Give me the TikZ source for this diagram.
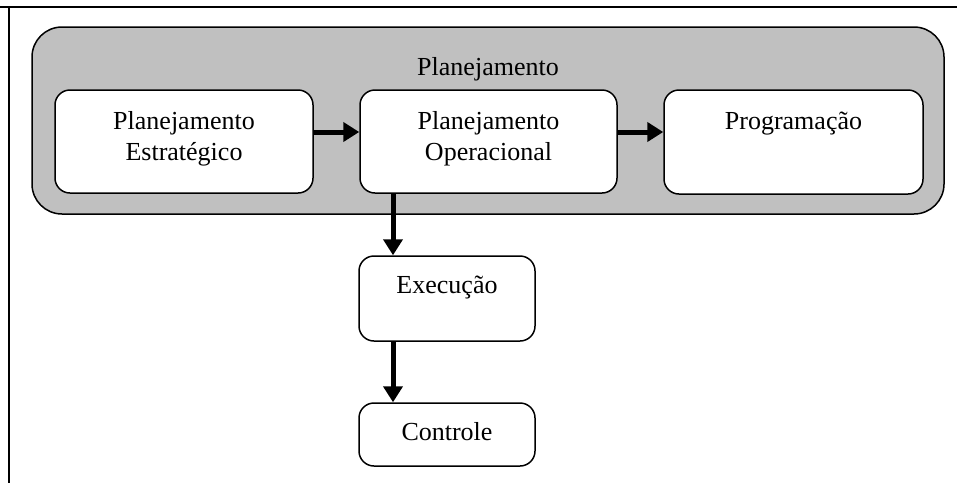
\documentclass[tikz,border=0pt]{standalone}
\usepackage{fontspec}
\setmainfont{Liberation Serif}
\usetikzlibrary{arrows.meta}
\definecolor{panelgray}{HTML}{C0C0C0}
\begin{document}
\begin{tikzpicture}[x=1pt,y=-1pt,
  boxstyle/.style={draw, line width=1.5pt, fill=white, rounded corners=15pt, inner sep=0pt},
  txt/.style={font=\fontsize{26}{31}\selectfont, inner sep=0pt, align=center},
  thickarrow/.style={line width=5pt, -{Triangle[length=16pt,width=19pt]}}]
\useasboundingbox (0,0) rectangle (957,483);
\draw[line width=1.2pt] (0,7) -- (957,7);
\draw[line width=2.4pt] (9,7) -- (9,483);
\node[draw, line width=1.5pt, fill=panelgray, rounded corners=30pt, minimum width=912pt, minimum height=187pt, inner sep=0pt] (plan) at (488,120.5) {};
\node[txt, anchor=base] (plantitle) at (488,75) {Planejamento};
\node[boxstyle, minimum width=258pt, minimum height=103pt] (b1) at (184,141.5) {};
\node[boxstyle, minimum width=257pt, minimum height=103pt] (b2) at (488.5,141.5) {};
\node[boxstyle, minimum width=259pt, minimum height=104pt] (b3) at (793.5,142) {};
\node[boxstyle, minimum width=176pt, minimum height=85pt] (ex) at (447,298.5) {};
\node[boxstyle, minimum width=176pt, minimum height=63pt] (ct) at (447,434.5) {};
\node[txt, anchor=north] (t1) at (184,111) {Planejamento\\Estratégico};
\node[txt, anchor=north] (t2) at (488.5,111) {Planejamento\\Operacional};
\node[txt, anchor=base] (t3) at (793.5,129) {Programação};
\node[txt, anchor=base] (t4) at (447,293) {Execução};
\node[txt, anchor=base] (t5) at (447,440) {Controle};
\coordinate (ay) at (0,132);
\coordinate (ax) at (393,0);
\draw[thickarrow] (b1.east |- ay) -- (b2.west |- ay);
\draw[thickarrow] (b2.east |- ay) -- (b3.west |- ay);
\draw[thickarrow] (ax |- b2.south) -- (ax |- ex.north);
\draw[thickarrow] (ax |- ex.south) -- (ax |- ct.north);
\end{tikzpicture}
\end{document}
